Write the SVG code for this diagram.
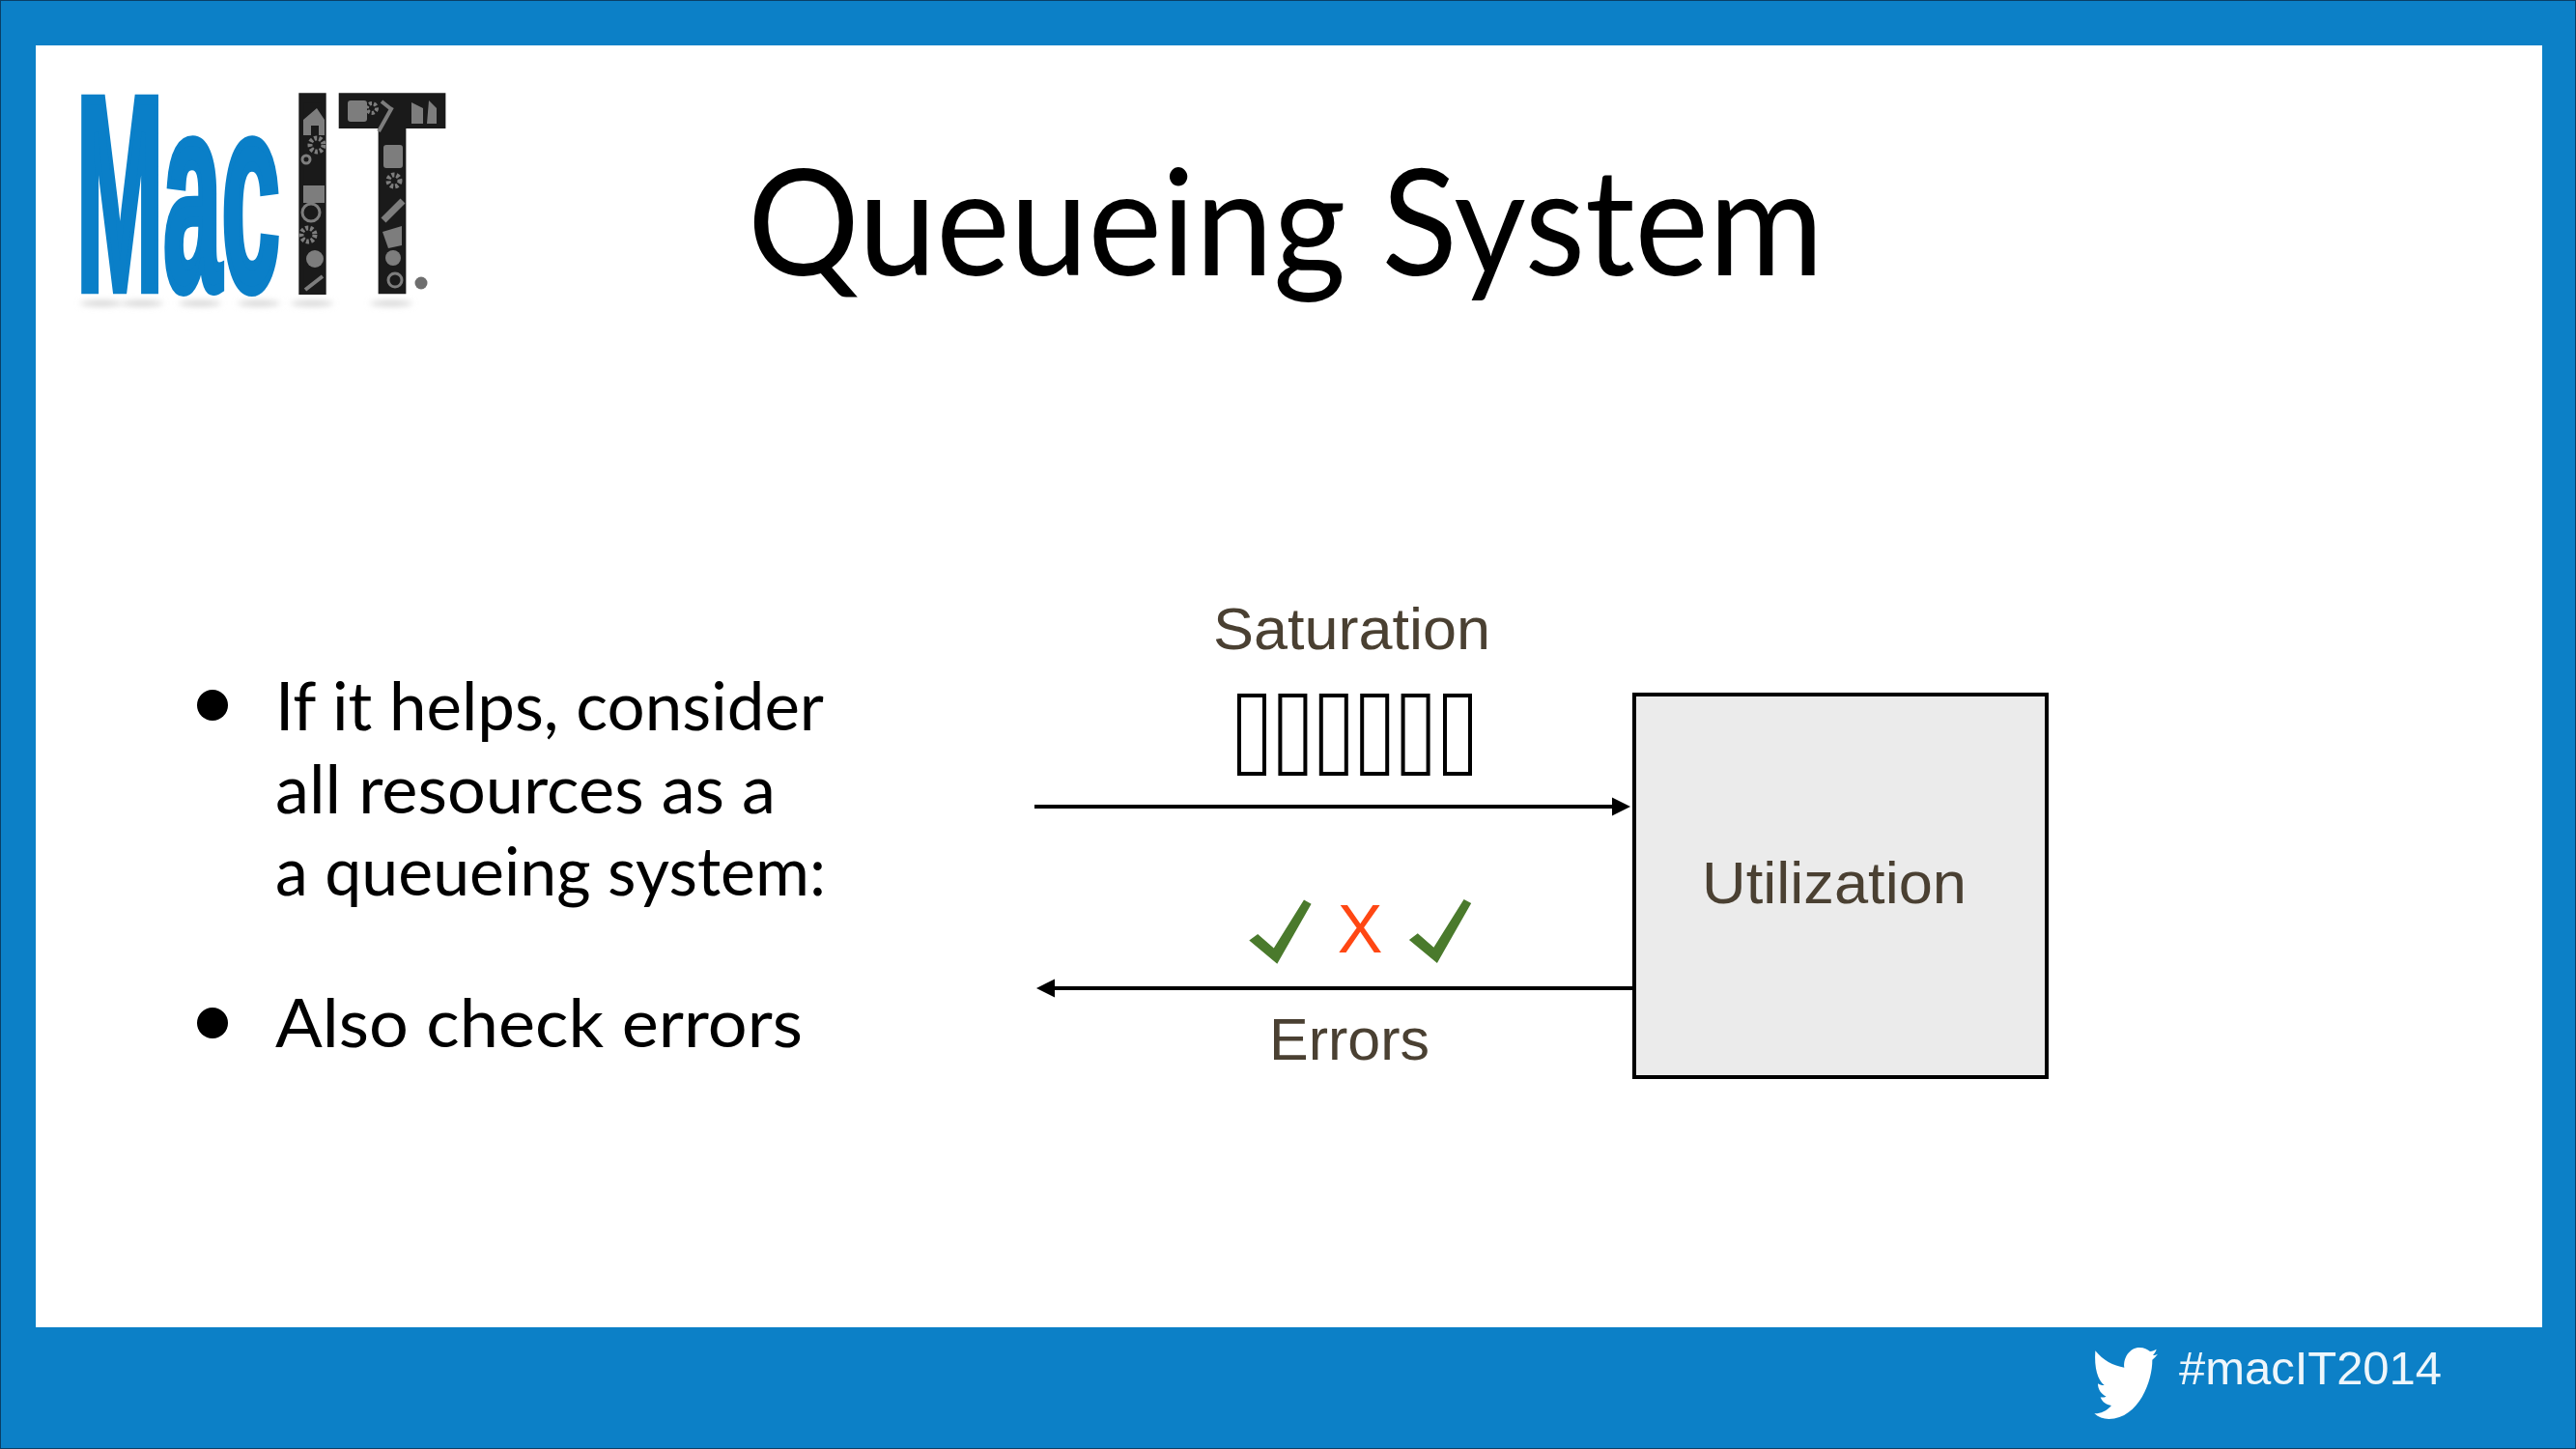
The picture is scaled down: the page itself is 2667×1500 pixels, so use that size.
<svg xmlns="http://www.w3.org/2000/svg" width="2667" height="1500" viewBox="0 0 2667 1500">
<style>
.body{font-family:"Lato","Noto Sans",sans-serif;fill:#000}
.lbl{font-family:"Liberation Sans",Arial,sans-serif;fill:#4a4032;font-size:62px}
.slot{fill:#fff;stroke:#000;stroke-width:4}
.conn{stroke:#000;stroke-width:4;fill:none}
.chk{fill:#4a7a2c}
.logo{font-family:"Liberation Sans",Arial,sans-serif;font-weight:700;vector-effect:non-scaling-stroke}
.ico{fill:#7d7d7d}
.gear{fill:none;stroke:#7d7d7d}
.sh{fill:#d4d4d4;filter:url(#blur)}
</style>
<defs>
<marker id="head" markerUnits="userSpaceOnUse" markerWidth="20" markerHeight="20" refX="0" refY="10" orient="auto"><path d="M0 .4L19 10L0 19.6z" fill="#000"/></marker>
<filter id="blur" x="-50%" y="-200%" width="200%" height="500%"><feGaussianBlur stdDeviation="3"/></filter>
</defs>
<rect width="2667" height="1500" fill="#0c80c7"/>
<rect x=".5" y=".5" width="2666" height="1499" fill="none" stroke="#0a3f66" stroke-width="1"/>
<rect x="37" y="47" width="2595" height="1327" fill="#fff"/>
<g id="logo">
<ellipse class="sh" cx="105" cy="314" rx="22" ry="3"/><ellipse class="sh" cx="147" cy="314" rx="22" ry="3"/><ellipse class="sh" cx="207" cy="314" rx="22" ry="3"/><ellipse class="sh" cx="268" cy="314" rx="22" ry="3"/><ellipse class="sh" cx="323" cy="314" rx="22" ry="3"/><ellipse class="sh" cx="405" cy="314" rx="22" ry="3"/>
<text class="logo" transform="translate(79 299) scale(.38 1)" font-size="285" fill="#0a7fc8" stroke="#0a7fc8" stroke-width="8">Mac</text>
<text class="logo" transform="translate(323.5 300) scale(.55 1)" font-size="289" text-anchor="middle" fill="#1a1a1a" stroke="#1a1a1a" stroke-width="8">I</text>
<text class="logo" transform="translate(406 302.5) scale(.62 1)" font-size="297" text-anchor="middle" fill="#1a1a1a" stroke="#1a1a1a" stroke-width="3">T</text>
<path class="ico" d="M314 124l14-12 8 12v16h-6v-10h-8v10h-8z"/>
<circle class="gear" cx="328" cy="150" r="7" stroke-width="5" stroke-dasharray="3 2"/>
<circle class="gear" cx="317" cy="165" r="4" stroke-width="3"/>
<path class="ico" d="M314 192h22v18h-22z"/>
<circle class="gear" cx="322" cy="220" r="9" stroke-width="3"/>
<circle class="gear" cx="319" cy="243" r="7" stroke-width="5" stroke-dasharray="3 2"/>
<circle class="ico" cx="326" cy="268" r="9"/><path class="gear" d="M316 300l18-14" stroke-width="4"/>
<rect class="ico" x="360" y="104" width="20" height="22" rx="3"/>
<circle class="gear" cx="385" cy="112" r="5" stroke-width="4" stroke-dasharray="3 2"/>
<path class="gear" d="M395 105l10 8M392 136l14-25" stroke-width="4"/>
<path class="ico" d="M426 106l12 6v16h-12zM444 104l8 8v16h-10z"/>
<rect class="ico" x="397" y="150" width="20" height="24" rx="3"/>
<circle class="gear" cx="408" cy="187" r="6" stroke-width="5" stroke-dasharray="3 2"/>
<path class="gear" d="M397 228l20-20" stroke-width="7"/>
<path class="ico" d="M396 240l20-6v20l-14 3z"/>
<circle class="ico" cx="407" cy="267" r="8"/>
<circle class="gear" cx="409" cy="290" r="7" stroke-width="3"/>
<circle cx="436" cy="293" r="6.5" fill="#6e6e6e"/>
</g>
<g id="title"><text class="body" x="774" y="285" font-size="153" textLength="1114" lengthAdjust="spacingAndGlyphs">Queueing System</text></g>
<g id="bullets">
<circle cx="220" cy="730" r="16"/><circle cx="220" cy="1059" r="16"/>
<text class="body" x="285" y="756" font-size="70" textLength="568" lengthAdjust="spacingAndGlyphs">If it helps, consider</text>
<text class="body" x="285" y="842" font-size="70" textLength="518" lengthAdjust="spacingAndGlyphs">all resources as a</text>
<text class="body" x="285" y="927" font-size="70" textLength="570" lengthAdjust="spacingAndGlyphs">a queueing system:</text>
<text class="body" x="285" y="1084" font-size="70" textLength="546" lengthAdjust="spacingAndGlyphs">Also check errors</text>
</g>
<g id="connectors">
<line class="conn" x1="1071" y1="835" x2="1669" y2="835" marker-end="url(#head)"/>
<line class="conn" x1="1690" y1="1023" x2="1092" y2="1023" marker-end="url(#head)"/>
</g>
<g id="saturation">
<text class="lbl" x="1256" y="672" textLength="287" lengthAdjust="spacingAndGlyphs">Saturation</text>
<rect class="slot" x="1283" y="720" width="26" height="81"/>
<rect class="slot" x="1325.4" y="720" width="26" height="81"/>
<rect class="slot" x="1367.8" y="720" width="26" height="81"/>
<rect class="slot" x="1410.2" y="720" width="26" height="81"/>
<rect class="slot" x="1452.6" y="720" width="26" height="81"/>
<rect class="slot" x="1496" y="720" width="26" height="81"/>
</g>
<g id="utilization">
<rect x="1692" y="719" width="427" height="396" fill="#ebebeb" stroke="#000" stroke-width="4"/>
<text class="lbl" x="1762" y="935" textLength="274" lengthAdjust="spacingAndGlyphs">Utilization</text>
</g>
<g id="errors">
<path class="chk" d="M1293.3 973.6L1302.2 967L1318.8 981.5L1350 931.6L1357.6 935.7L1322.3 997.7z"/>
<text x="1408" y="986" font-family="Liberation Sans,Arial,sans-serif" font-size="70" text-anchor="middle" fill="#ff4713">X</text>
<path class="chk" d="M1458.9 972.9L1467.8 966.3L1484.4 980.8L1515.6 930.9L1523.2 935L1487.9 997z"/>
<text class="lbl" x="1314" y="1097" textLength="166" lengthAdjust="spacingAndGlyphs">Errors</text>
</g>
<g id="hashtag">
<path transform="translate(2160 1385) scale(.3333)" fill="#fff" d="M28 40C50 68 85 88 118 92C114 62 135 30 165 30C180 30 190 36 198 42C206 42 212 38 218 35C216 42 212 48 207 54C212 54 218 52 222 50C216 58 210 64 205 68C206 130 165 250 70 252C52 252 38 246 25 235C42 236 62 228 78 210C62 208 50 200 44 184C48 186 58 184 62 182C44 174 36 158 36 142C42 146 50 148 56 147C36 132 24 95 28 40Z"/>
<text x="2256" y="1433" font-family="Liberation Sans,Arial,sans-serif" font-size="49" fill="#eef6fb" textLength="272" lengthAdjust="spacingAndGlyphs">#macIT2014</text>
</g>
</svg>
